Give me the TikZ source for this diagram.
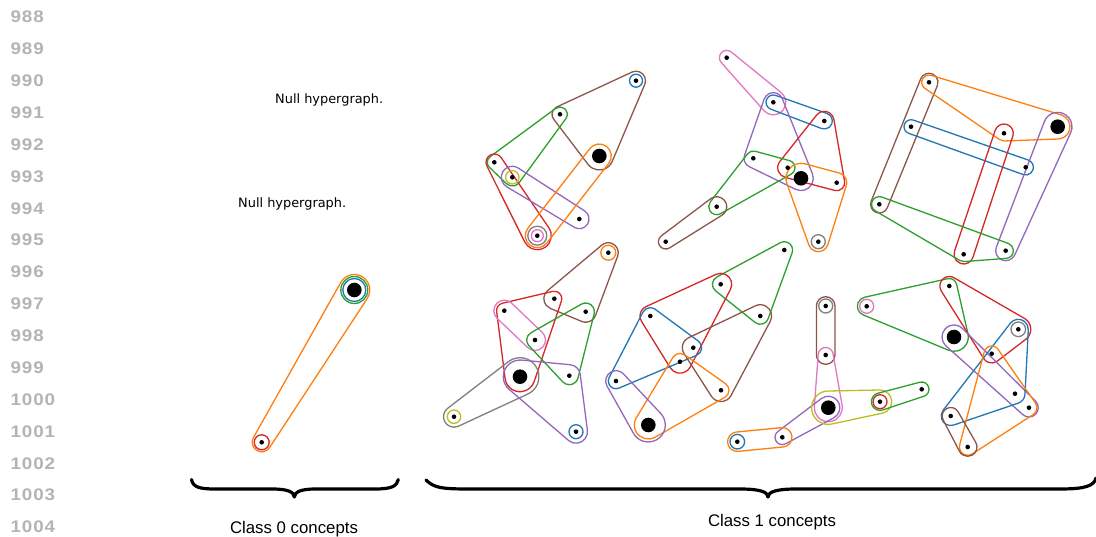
\documentclass[tikz,border=0pt]{standalone}
\usepackage{fontspec}
\setmainfont{Liberation Sans}
\newfontfamily\djv{DejaVu Sans}
\newfontfamily\numfont[FakeStretch=1.12,LetterSpace=5]{Liberation Sans Bold}
\definecolor{tblue}{HTML}{1F77B4}
\definecolor{torange}{HTML}{FF7F0E}
\definecolor{tgreen}{HTML}{2CA02C}
\definecolor{tred}{HTML}{D62728}
\definecolor{tpurple}{HTML}{9467BD}
\definecolor{tbrown}{HTML}{8C564B}
\definecolor{tpink}{HTML}{E377C2}
\definecolor{tgray}{HTML}{7F7F7F}
\definecolor{tolive}{HTML}{BCBD22}
\definecolor{lnum}{HTML}{B4B4B4}
\newcount\hn
\newcommand\hcompute{%
  \edef\hN{\the\hn}%
  \foreach \i in {1,...,\hN}{%
    \pgfmathtruncatemacro\hj{mod(\i,\hN)+1}%
    \pgfmathsetmacro\hdx{\csname hx\hj\endcsname-\csname hx\i\endcsname}%
    \pgfmathsetmacro\hdy{\csname hy\hj\endcsname-\csname hy\i\endcsname}%
    \pgfmathsetmacro\ha{atan2(\hdy,\hdx)}%
    \pgfmathsetmacro\hd{veclen(\hdx,\hdy)}%
    \pgfmathsetmacro\hth{asin((\csname hr\i\endcsname-\csname hr\hj\endcsname)/\hd)}%
    \expandafter\xdef\csname ha\i\endcsname{\ha}%
    \expandafter\xdef\csname hth\i\endcsname{\hth}%
  }%
  \expandafter\xdef\csname ha0\endcsname{\csname ha\hN\endcsname}%
  \gdef\hsum{0}%
  \foreach \i in {1,...,\hN}{%
    \pgfmathtruncatemacro\hk{\i-1}%
    \pgfmathsetmacro\hT{\csname ha\i\endcsname-\csname ha\hk\endcsname}%
    \pgfmathsetmacro\hT{\hT>180 ? \hT-360 : (\hT<=-180 ? \hT+360 : \hT)}%
    \pgfmathsetmacro\hS{\hsum+\hT}%
    \xdef\hsum{\hS}%
  }%
  \pgfmathsetmacro\hsg{\hsum<0 ? -1 : 1}%
  \foreach \i in {1,...,\hN}{%
    \pgfmathsetmacro\hu{\csname ha\i\endcsname-\hsg*(90-\csname hth\i\endcsname)}%
    \expandafter\xdef\csname hu\i\endcsname{\hu}%
  }%
  \expandafter\xdef\csname hu0\endcsname{\csname hu\hN\endcsname}%
  \xdef\hpath{([shift={(\csname hu0\endcsname:\csname hr1\endcsname)}]\csname hx1\endcsname,\csname hy1\endcsname)}%
  \foreach \i in {1,...,\hN}{%
    \pgfmathtruncatemacro\hk{\i-1}%
    \pgfmathtruncatemacro\hj{mod(\i,\hN)+1}%
    \pgfmathsetmacro\hD{\csname hu\i\endcsname-\csname hu\hk\endcsname}%
    \pgfmathsetmacro\hD{\hsg>0 ? mod(\hD+720,360) : -mod(720-\hD,360)}%
    \xdef\hpath{\hpath arc[start angle=\csname hu\hk\endcsname, delta angle=\hD, radius=\csname hr\i\endcsname]}%
    \ifnum\i<\hN
      \xdef\hpath{\hpath -- ([shift={(\csname hu\i\endcsname:\csname hr\hj\endcsname)}]\csname hx\hj\endcsname,\csname hy\hj\endcsname)}%
    \fi
  }%
}
\newcommand\hedge[2]{%
  \global\hn=0
  \foreach \pn/\pr in {#2}{%
    \global\advance\hn by 1
    \expandafter\xdef\csname hx\the\hn\endcsname{\csname vx\pn\endcsname}%
    \expandafter\xdef\csname hy\the\hn\endcsname{\csname vy\pn\endcsname}%
    \expandafter\xdef\csname hr\the\hn\endcsname{\pr}%
  }%
  \ifnum\hn=1
    \draw[#1] (\csname hx1\endcsname,\csname hy1\endcsname) circle[radius=\csname hr1\endcsname];
  \else
    \hcompute
    \draw[#1] \hpath -- cycle;
  \fi
}
\def\verts{%
 h1/354.3/290/bdot, h2/261.7/442.3/sdot,
 a1/636/80.7/sdot, a2/560/114.3/sdot, a3/599.3/156/bdot, a4/494.3/162.3/sdot,
 a5/512.3/177.3/sdot, a6/579.3/219/sdot, a7/537.3/235.7/sdot,
 b1/726.7/57.7/sdot, b2/773.3/102.3/sdot, b3/824.3/121/sdot, b4/753.3/158.3/sdot,
 b5/787.7/167.7/sdot, b6/801/178.3/bdot, b7/836.7/182.7/sdot, b8/716.7/206.7/sdot,
 b9/665.7/241.7/sdot, b10/818.3/241.7/sdot,
 c1/929/82.3/sdot, c2/1057.7/126.7/bdot, c3/911/126.7/sdot, c4/1004/133.3/sdot,
 c5/1025.7/167.3/sdot, c6/879.3/204.3/sdot, c7/963.7/254.3/sdot, c8/1005.7/250.7/sdot,
 d1/608.3/252.7/sdot, d2/554.3/298.7/sdot, d3/504.3/310.7/sdot, d4/585.7/311.7/sdot,
 d5/535/340/sdot, d6/520/376.7/bdot, d7/569.3/375.7/sdot, d8/454/416.7/sdot, d9/576/431.7/sdot,
 e1/784.3/250/sdot, e2/720.7/284.3/sdot, e3/650.3/316/sdot, e4/760.3/316/sdot,
 e5/693.3/347.7/sdot, e6/680/361.7/sdot, e7/616/381/sdot, e8/721/390.3/sdot, e9/648.3/425/bdot,
 f1/825.7/306/sdot, f2/825.7/355/sdot, f3/828.3/407.7/bdot, f4/880/401.7/sdot,
 f5/921.7/389.3/sdot, f6/782.3/437.3/sdot, f7/737.3/441.7/sdot,
 g1/866.7/306.3/sdot, g2/949.3/286/sdot, g3/954/337/bdot, g4/1018.3/329.3/sdot,
 g5/991.7/353.7/sdot, g6/1015/393.7/sdot, g7/1029/407.7/sdot, g8/950.7/416/sdot, g9/967.7/447/sdot}
\begin{document}
\begin{tikzpicture}[x=1pt,y=-1pt,
  sdot/.style={circle,fill=black,inner sep=0pt,minimum size=4.6pt},
  bdot/.style={circle,fill=black,inner sep=0pt,minimum size=14.6pt},
  he/.style={line width=1.3pt},
  eblue/.style={he,draw=tblue}, eorange/.style={he,draw=torange},
  egreen/.style={he,draw=tgreen}, ered/.style={he,draw=tred},
  epurple/.style={he,draw=tpurple}, ebrown/.style={he,draw=tbrown},
  epink/.style={he,draw=tpink}, egray/.style={he,draw=tgray},
  eolive/.style={he,draw=tolive},
  lnumst/.style={anchor=west,inner sep=0pt,text=lnum,font=\numfont\fontsize{16.8}{17}\selectfont},
  nullst/.style={anchor=base west,inner sep=0pt,font=\djv\fontsize{12.9}{13}\selectfont},
  classst/.style={anchor=base,inner sep=0pt,font=\fontsize{16.8}{17}\selectfont},
  bracest/.style={line width=3.2pt,line cap=round,line join=round}]
\useasboundingbox (0,0) rectangle (1096,537);
\fill[white] (0,0) rectangle (1096,537);
\foreach \n/\x/\y/\st in \verts {%
  \expandafter\xdef\csname vx\n\endcsname{\x}%
  \expandafter\xdef\csname vy\n\endcsname{\y}%
}
% line numbers
\foreach \k [count=\c from 0] in {988,...,1004}
  \node[lnumst] (ln\k) at (10.5,17+31.875*\c) {\k};
% texts
\node[nullst] (null1) at (275,104) {Null hypergraph.};
\node[nullst] (null2) at (238,207.5) {Null hypergraph.};
\node[classst] (class0) at (294,533) {Class 0 concepts};
\node[classst] (class1) at (772,526) {Class 1 concepts};
% braces
\draw[bracest] (191.5,479.5) .. controls (193,487) and (199,489) .. (215,489) -- (272,489)
  .. controls (288,489) and (294,492) .. (294.3,497)
  .. controls (295,492) and (300,489) .. (316,489) -- (375,489)
  .. controls (392,489) and (397,486) .. (398.3,479.5);
\draw[bracest] (426,480) .. controls (434,488) and (442,489) .. (470,489) -- (740,489)
  .. controls (760,489) and (768,492) .. (768,497)
  .. controls (768,492) and (776,489) .. (796,489) -- (1060,489)
  .. controls (1085,489) and (1094,486) .. (1096,478);
% left graph
\hedge{eblue}{h1/11.5}
\hedge{egreen}{h1/13.5}
\hedge{eorange}{h1/15.5, h2/9.5}
\hedge{ered}{h2/7.5}
% top-left
\hedge{eblue}{a1/6.5}
\hedge{ebrown}{a1/9.5, a2/8, a3/14}
\hedge{egreen}{a2/7.3, a4/7, a5/8.7}
\hedge{ered}{a4/8.3, a7/14}
\hedge{epurple}{a5/11, a6/9.7}
\hedge{eorange}{a3/12, a7/12}
\hedge{eolive}{a5/6.7}
\hedge{epink}{a7/6}
\hedge{egray}{a7/9.5}
% top-middle
\hedge{epink}{b1/7.3, b2/12.5}
\hedge{eblue}{b2/7.3, b3/8}
\hedge{epurple}{b2/9.7, b4/9.3, b6/12.3}
\hedge{ered}{b3/9.7, b5/10, b7/8}
\hedge{egreen}{b4/7.3, b5/7.3, b8/8}
\hedge{ebrown}{b8/10, b9/7.3}
\hedge{eorange}{b6/15, b7/10, b10/10}
\hedge{egray}{b10/7}
% top-right
\hedge{ebrown}{c1/9, c6/8.7}
\hedge{eorange}{c1/7.3, c2/12.3, c4/7.7}
\hedge{eblue}{c3/7, c5/7.7}
\hedge{ered}{c4/9.3, c7/9.7}
\hedge{epurple}{c2/14.3, c8/10}
\hedge{egreen}{c6/7.7, c7/7.3, c8/7.7}
% bottom-left
\hedge{eorange}{d1/7.5}
\hedge{ebrown}{d1/10, d2/10.5, d4/10.5}
\hedge{ered}{d2/7.5, d3/7.7, d6/15}
\hedge{epink}{d3/10.5, d5/10.5}
\hedge{egreen}{d4/8.7, d5/8.3, d7/9}
\hedge{egray}{d6/19, d8/10.5}
\hedge{eolive}{d8/6.7}
\hedge{epurple}{d6/16.7, d7/11, d9/11.5}
\hedge{eblue}{d9/7}
% bottom-middle
\hedge{egreen}{e1/8.3, e2/8.3, e4/8.3}
\hedge{ered}{e2/11, e3/10.3, e6/11.5}
\hedge{eblue}{e3/8.3, e5/8.3, e7/7.7}
\hedge{ebrown}{e4/11.3, e5/11, e8/11.3}
\hedge{eorange}{e6/8.3, e8/8, e9/14}
\hedge{epurple}{e7/10.3, e9/17}
% bottom-middle 2
\hedge{egray}{f1/7}
\hedge{ebrown}{f1/9.3, f2/9.3}
\hedge{epink}{f2/7.5, f3/14}
\hedge{epurple}{f3/11.5, f6/7.3}
\hedge{eolive}{f3/16.7, f4/11.7}
\hedge{ered}{f4/7}
\hedge{egreen}{f4/8.7, f5/7.3}
\hedge{eorange}{f6/9.7, f7/9.7}
\hedge{eblue}{f7/7.3}
% bottom-right
\hedge{epink}{g1/7}
\hedge{egreen}{g1/9.3, g2/7.5, g3/14.3}
\hedge{ered}{g2/9.5, g4/12.5, g5/9.3}
\hedge{egray}{g4/7.3}
\hedge{epurple}{g3/12, g7/9.3}
\hedge{eblue}{g4/10, g6/10, g8/9.5}
\hedge{eorange}{g5/7.7, g7/8, g9/8.3}
\hedge{ebrown}{g8/8.5, g9/9.3}
% vertices
\foreach \n/\x/\y/\st in \verts
  \node[\st] (\n) at (\x,\y) {};
\end{tikzpicture}
\end{document}
